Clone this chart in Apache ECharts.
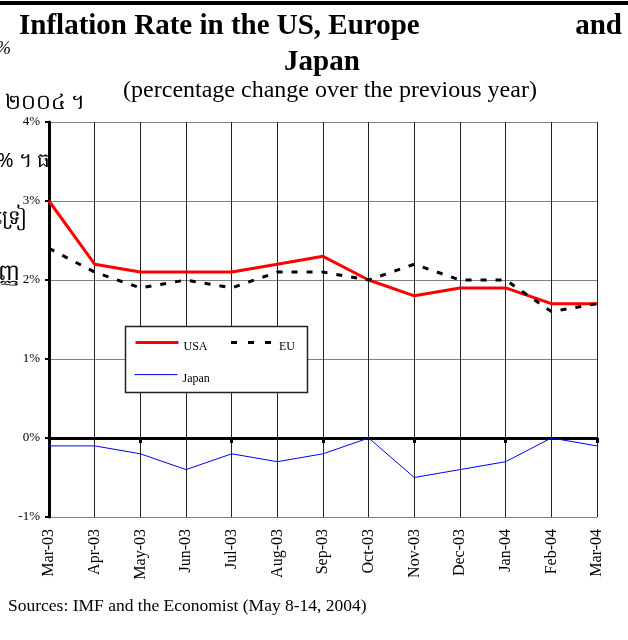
<!DOCTYPE html>
<html>
<head>
<meta charset="utf-8">
<script src="https://cdn.jsdelivr.net/npm/echarts@6/dist/echarts.min.js"></script>
<style>
  html, body { margin: 0; padding: 0; background: #fff; }
  #chart { width: 628px; height: 640px; }
</style>
</head>
<body>
<div id="chart"></div>
<script>
const months = ['Mar-03', 'Apr-03', 'May-03', 'Jun-03', 'Jul-03', 'Aug-03', 'Sep-03',
  'Oct-03', 'Nov-03', 'Dec-03', 'Jan-04', 'Feb-04', 'Mar-04']
const usa = [3.0, 2.2, 2.1, 2.1, 2.1, 2.2, 2.3, 2.0, 1.8, 1.9, 1.9, 1.7, 1.7]
const eu = [2.4, 2.1, 1.9, 2.0, 1.9, 2.1, 2.1, 2.0, 2.2, 2.0, 2.0, 1.6, 1.7]
const japan = [-0.1, -0.1, -0.2, -0.4, -0.2, -0.3, -0.2, 0.0, -0.5, -0.4, -0.3, 0.0, -0.1]

const serif = '"Liberation Serif", "Times New Roman", serif'

const chart = echarts.init(document.getElementById('chart'))

// legend labels sit a little under their line, like the original
const legendText = {
  fontFamily: serif,
  fontSize: 12,
  color: '#000',
  rich: { n: { fontFamily: serif, fontSize: 12, color: '#000', padding: [8, 0, 0, 0] } }
}

const option = {
  animation: false,
  backgroundColor: '#fff',
  textStyle: { fontFamily: serif, color: '#000' },
  grid: { left: 49, right: 31, top: 122, bottom: 123 },
  xAxis: [
    {
      // zero line with the ticks
      type: 'category',
      data: months,
      boundaryGap: false,
      axisLine: { onZero: true, lineStyle: { color: '#000', width: 3 } },
      axisTick: { show: true, length: 5, lineStyle: { color: '#000', width: 3 } },
      axisLabel: { show: false },
      splitLine: { show: false }
    },
    {
      type: 'category',
      data: months,
      position: 'bottom',
      boundaryGap: false,
      axisLine: { onZero: false, show: false },
      axisTick: { show: false },
      axisLabel: {
        rotate: 90,
        margin: 12,
        fontSize: 16,
        fontFamily: serif,
        color: '#000'
      },
      splitLine: { show: true, lineStyle: { color: '#222', width: 1 } }
    }
  ],
  yAxis: {
    type: 'value',
    min: -1,
    max: 4,
    interval: 1,
    axisLine: { show: true, lineStyle: { color: '#000', width: 3 } },
    axisTick: { show: true, length: 4, lineStyle: { color: '#000', width: 2 } },
    axisLabel: {
      formatter: '{value}%',
      fontSize: 13,
      margin: 9,
      fontFamily: serif,
      color: '#000'
    },
    splitLine: { show: true, lineStyle: { color: '#808080', width: 1 } }
  },
  legend: [
    {
      data: [
        { name: 'USA', lineStyle: { width: 3 } },
        { name: 'EU', lineStyle: { width: 3, type: [6, 11] } }
      ],
      formatter: '{n|{name}}',
      left: 134,
      top: 337,
      padding: 0,
      itemWidth: 43,
      itemHeight: 14,
      itemGap: 22,
      itemStyle: { opacity: 0 },
      textStyle: legendText
    },
    {
      data: [{ name: 'Japan', lineStyle: { width: 1 } }],
      formatter: '{n|{name}}',
      left: 134,
      top: 369,
      padding: 0,
      itemWidth: 43,
      itemHeight: 14,
      itemStyle: { opacity: 0 },
      textStyle: legendText
    }
  ],
  graphic: [
    { type: 'rect', shape: { x: 0, y: 1, width: 628, height: 4 }, style: { fill: '#000' } },
    {
      type: 'rect', z: 3,
      shape: { x: 125.5, y: 326.5, width: 182, height: 66 },
      style: { fill: '#fff', stroke: '#222', lineWidth: 1.5 }
    },
    {
      type: 'text', x: 19, y: 12,
      style: { text: 'Inflation Rate in the US, Europe', font: 'bold 29px ' + serif, fill: '#000' }
    },
    {
      type: 'text', x: 622, y: 12,
      style: { text: 'and', font: 'bold 29px ' + serif, fill: '#000', textAlign: 'right' }
    },
    {
      type: 'text', x: 322, y: 48,
      style: { text: 'Japan', font: 'bold 29px ' + serif, fill: '#000', textAlign: 'center' }
    },
    {
      type: 'text', x: 330, y: 79,
      style: { text: '(percentage change over the previous year)', font: '24px ' + serif, fill: '#000', textAlign: 'center' }
    },
    {
      type: 'text', x: 8, y: 597,
      style: { text: 'Sources: IMF and the Economist (May 8-14, 2004)', font: '17.5px ' + serif, fill: '#000' }
    },
    // clipped text from the page behind the chart
    { type: 'text', x: -4, y: 40, style: { text: '%', font: 'italic 18px ' + serif, fill: '#000' } },
    { type: 'text', x: 5, y: 93, style: { text: '២០០៤ ។', font: '21px "Noto Sans", serif', fill: '#000' } },
    { type: 'text', x: -3, y: 151, style: { text: '% ។ ធ', font: '20px "Noto Sans", serif', fill: '#000' } },
    { type: 'text', x: -4, y: 208, style: { text: 'ទ្រៀ', font: '20px "Noto Sans", serif', fill: '#000' } },
    { type: 'text', x: -2, y: 262, style: { text: 'ញ្ញ', font: '23px "Noto Sans", serif', fill: '#000' } }
  ],
  series: [
    {
      name: 'USA',
      type: 'line',
      data: usa,
      symbol: 'none',
      lineStyle: { color: '#ff0000', width: 3 },
      itemStyle: { color: '#ff0000' }
    },
    {
      name: 'EU',
      type: 'line',
      data: eu,
      symbol: 'none',
      lineStyle: { color: '#000', width: 3, type: [6, 9] },
      itemStyle: { color: '#000' }
    },
    {
      name: 'Japan',
      type: 'line',
      data: japan,
      symbol: 'none',
      lineStyle: { color: '#0000ff', width: 1 },
      itemStyle: { color: '#0000ff' }
    }
  ]
}

chart.setOption(option)
</script>
</body>
</html>
